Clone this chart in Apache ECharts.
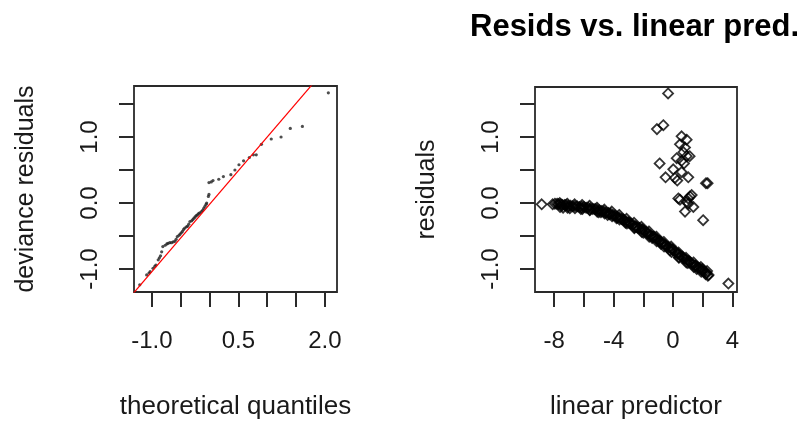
<!DOCTYPE html>
<html>
<head>
<meta charset="utf-8">
<script src="https://cdn.jsdelivr.net/npm/echarts@6/dist/echarts.min.js"></script>
<style>
  html, body { margin: 0; padding: 0; background: #fff; }
  #chart { width: 804px; height: 423px; }
</style>
</head>
<body>
<div id="chart"></div>
<script>
// Q-Q plot: theoretical quantiles vs sorted deviance residuals
const qqX = [-1.21, -1.09, -1.05, -1.03, -0.98, -0.95, -0.93, -0.89, -0.87, -0.85, -0.83, -0.81,
  -0.77, -0.74, -0.72, -0.69, -0.66, -0.63, -0.60, -0.58, -0.56, -0.53, -0.51, -0.49, -0.47,
  -0.45, -0.43, -0.40, -0.38, -0.36, -0.34, -0.31, -0.29, -0.27, -0.25, -0.23, -0.21, -0.19,
  -0.17, -0.14, -0.12, -0.10, -0.08, -0.06, -0.05, -0.02, -0.01, -0.01, 0.03, 0.06, 0.16, 0.24,
  0.37, 0.44, 0.51, 0.59, 0.69, 0.76, 0.81, 0.90, 1.07, 1.24, 1.40, 1.61, 2.06];
const qqY = [-1.24, -1.09, -1.06, -1.04, -0.99, -0.96, -0.94, -0.86, -0.83, -0.80, -0.74, -0.66,
  -0.64, -0.62, -0.61, -0.60, -0.60, -0.59, -0.58, -0.55, -0.51, -0.49, -0.47, -0.45, -0.43,
  -0.40, -0.38, -0.36, -0.35, -0.32, -0.28, -0.27, -0.25, -0.23, -0.21, -0.19, -0.18, -0.16,
  -0.15, -0.13, -0.11, -0.08, -0.05, -0.02, 0.00, 0.10, 0.13, 0.31, 0.32, 0.34, 0.36, 0.40,
  0.43, 0.50, 0.58, 0.64, 0.69, 0.73, 0.73, 0.89, 0.97, 1.00, 1.13, 1.16, 1.67];

// reference line through the quartiles
const qqLineX = [-1.4, 2.3];
const qqLineY = [-1.448, 2.326];

// residuals against the linear predictor
const predX = [-8.84, -8.10, -7.95, -7.80, -7.70, -7.55, -7.45, -7.30, -7.20, -7.05, -6.90, -6.75,
  -6.60, -6.45, -6.30, -6.15, -6.00, -5.85, -5.70, -5.55, -5.40, -5.25, -5.10, -4.95, -4.80,
  -4.65, -4.50, -4.35, -4.20, -4.05, -3.90, -3.75, -3.60, -3.45, -3.30, -3.15, -3.00, -2.85,
  -2.70, -2.55, -2.40, -2.25, -2.10, -1.95, -1.80, -1.65, -1.50, -1.35, -1.20, -1.05, -0.90,
  -0.75, -0.60, -0.45, -0.30, -0.15, 0.00, 0.15, 0.30, 0.45, 0.60, 0.75, 0.90, 1.05, 1.20,
  1.35, 1.50, 1.65, 1.80, 1.95, 2.10, 2.25, 2.40, 3.73,
  -7.40, -6.95, -6.20, -5.60, -5.00, -4.40, -3.80, -3.20, -2.60, -2.00, -1.40, -0.80, -0.20,
  0.40, 1.00, 1.60, 2.20,
  -7.62, -7.12, -6.62, -6.12, -5.62, -5.12, -4.62, -4.12, -3.62, -3.12, -2.62, -2.12, -1.62,
  -1.12, -0.62, -0.12, 0.38, 0.88, 1.38, 1.88, 2.30,
  -7.60, -7.10, -6.60, -6.10, -5.60, -5.10, -4.60, -4.10, -3.60, -3.10, -2.60, -2.10, -1.60,
  -1.10, -0.60, -0.10, 0.40, 0.90, 1.40, 1.90, 2.35,
  -4.85, -4.28, -3.72, -3.35, -2.95, -2.48, -2.05, -1.72, -1.28, -0.88, -0.52, -0.05, 0.33,
  0.70, 1.12, 1.52, 1.98,
  -0.33, -1.08, -0.65, -0.90, -0.50, 0.02, 0.25, 0.13, 0.29, 0.58, 0.92, 0.47, 0.81, 0.70,
  0.92, 1.12, 0.58, 0.74, 0.58, 1.03, 2.22, 2.33, 0.36, 0.47, 1.03, 1.14, 1.26, 0.92, 1.03,
  1.37, 0.81, 2.03];
const predY = [-0.02, -0.02, -0.01, -0.01, -0.02, -0.02, -0.03, -0.03, -0.03, -0.04, -0.04, -0.05,
  -0.05, -0.05, -0.06, -0.06, -0.06, -0.07, -0.07, -0.08, -0.09, -0.09, -0.10, -0.11, -0.12,
  -0.13, -0.14, -0.15, -0.16, -0.18, -0.19, -0.21, -0.22, -0.24, -0.26, -0.28, -0.29, -0.31,
  -0.33, -0.35, -0.37, -0.38, -0.40, -0.42, -0.44, -0.46, -0.49, -0.51, -0.53, -0.55, -0.58,
  -0.60, -0.62, -0.65, -0.67, -0.69, -0.71, -0.74, -0.76, -0.79, -0.81, -0.84, -0.86, -0.88,
  -0.91, -0.93, -0.95, -0.97, -0.99, -1.02, -1.04, -1.06, -1.09, -1.22,
  -0.07, -0.08, -0.09, -0.11, -0.14, -0.18, -0.23, -0.30, -0.37, -0.45, -0.53, -0.62, -0.72,
  -0.82, -0.91, -1.00, -1.08,
  -0.00, -0.01, -0.02, -0.03, -0.04, -0.07, -0.10, -0.13, -0.18, -0.24, -0.30, -0.36, -0.43,
  -0.51, -0.59, -0.66, -0.75, -0.83, -0.90, -0.97, -1.03,
  -0.06, -0.07, -0.08, -0.09, -0.10, -0.13, -0.16, -0.20, -0.25, -0.31, -0.38, -0.44, -0.51,
  -0.58, -0.66, -0.74, -0.83, -0.90, -0.97, -1.04, -1.10,
  -0.14, -0.17, -0.22, -0.25, -0.30, -0.36, -0.40, -0.46, -0.51, -0.58, -0.64, -0.70, -0.77,
  -0.83, -0.89, -0.95, -1.00,
  1.66, 1.12, 1.18, 0.60, 0.39, 0.51, 0.68, 0.38, 0.34, 1.01, 0.96, 0.89, 0.84, 0.77,
  0.71, 0.71, 0.64, 0.60, 0.47, 0.39, 0.30, 0.30, 0.07, 0.05, 0.07, 0.10, 0.12, 0.02, -0.01,
  -0.06, -0.13, -0.26];

// tick positions and labelled ticks
const qqXTicks = [-1.0, -0.5, 0.0, 0.5, 1.0, 1.5, 2.0];
const qqXLabels = [-1.0, 0.5, 2.0];
const residTicks = [-1.0, -0.5, 0.0, 0.5, 1.0, 1.5];
const residLabels = [-1.0, 0.0, 1.0];
const predTicks = [-8, -6, -4, -2, 0, 2, 4];
const predLabels = [-8, -4, 0, 4];

const zip = (xs, ys) => xs.map((x, i) => [x, ys[i]]);

const FONT = "'Liberation Sans', Arial, Helvetica, sans-serif";
const INK = '#2a2a2a';
const TEXT = '#1a1a1a';

function xAxisCfg(idx, min, max, ticks, labels, name, fmt) {
  return {
    type: 'value', gridIndex: idx, min: min, max: max,
    name: name, nameLocation: 'middle', nameGap: 102,
    nameTextStyle: { fontFamily: FONT, fontSize: 26, color: TEXT },
    axisLine: { show: false, onZero: false },
    axisTick: { show: true, inside: false, length: 15, customValues: ticks,
      lineStyle: { color: INK, width: 2 } },
    axisLabel: { customValues: labels, margin: 37, formatter: fmt,
      fontFamily: FONT, fontSize: 24, color: TEXT },
    splitLine: { show: false }
  };
}
function yAxisCfg(idx, min, max, name) {
  return {
    type: 'value', gridIndex: idx, min: min, max: max,
    name: name, nameLocation: 'middle', nameGap: 95, nameRotate: 90,
    nameTextStyle: { fontFamily: FONT, fontSize: 25, color: TEXT },
    axisLine: { show: false, onZero: false },
    axisTick: { show: true, inside: false, length: 15, customValues: residTicks,
      lineStyle: { color: INK, width: 2 } },
    axisLabel: { customValues: residLabels, rotate: 90, margin: 32,
      formatter: v => v.toFixed(1),
      fontFamily: FONT, fontSize: 24, color: TEXT },
    splitLine: { show: false }
  };
}

const chart = echarts.init(document.getElementById('chart'), null, { renderer: 'canvas' });
chart.setOption({
  animation: false,
  backgroundColor: '#ffffff',
  title: {
    text: 'Resids vs. linear pred.',
    left: 465, top: 7,
    textStyle: { fontFamily: FONT, fontSize: 31, fontWeight: 'bold', color: '#000' }
  },
  grid: [
    { left: 134, top: 86, width: 203, height: 206, show: true,
      borderColor: INK, borderWidth: 1.8, backgroundColor: 'transparent' },
    { left: 535, top: 87, width: 202, height: 205, show: true,
      borderColor: INK, borderWidth: 1.8, backgroundColor: 'transparent' }
  ],
  xAxis: [
    xAxisCfg(0, -1.31, 2.21, qqXTicks, qqXLabels, 'theoretical quantiles', v => v.toFixed(1)),
    xAxisCfg(1, -9.29, 4.31, predTicks, predLabels, 'linear predictor', v => String(v))
  ],
  yAxis: [
    yAxisCfg(0, -1.348, 1.773, 'deviance residuals'),
    yAxisCfg(1, -1.348, 1.758, 'residuals')
  ],
  series: [
    {
      type: 'scatter', xAxisIndex: 0, yAxisIndex: 0,
      data: zip(qqX, qqY),
      symbol: 'circle', symbolSize: 3.2,
      itemStyle: { color: '#222' },
      z: 2
    },
    {
      type: 'line', xAxisIndex: 0, yAxisIndex: 0,
      data: zip(qqLineX, qqLineY),
      showSymbol: false, symbol: 'none', clip: true,
      lineStyle: { color: '#ff0000', width: 1.2 },
      z: 3
    },
    {
      type: 'scatter', xAxisIndex: 1, yAxisIndex: 1,
      data: zip(predX, predY),
      symbol: 'diamond', symbolSize: 10,
      itemStyle: { color: 'rgba(0,0,0,0)', borderColor: '#000', borderWidth: 1.8 },
      z: 2
    }
  ]
});
</script>
</body>
</html>
